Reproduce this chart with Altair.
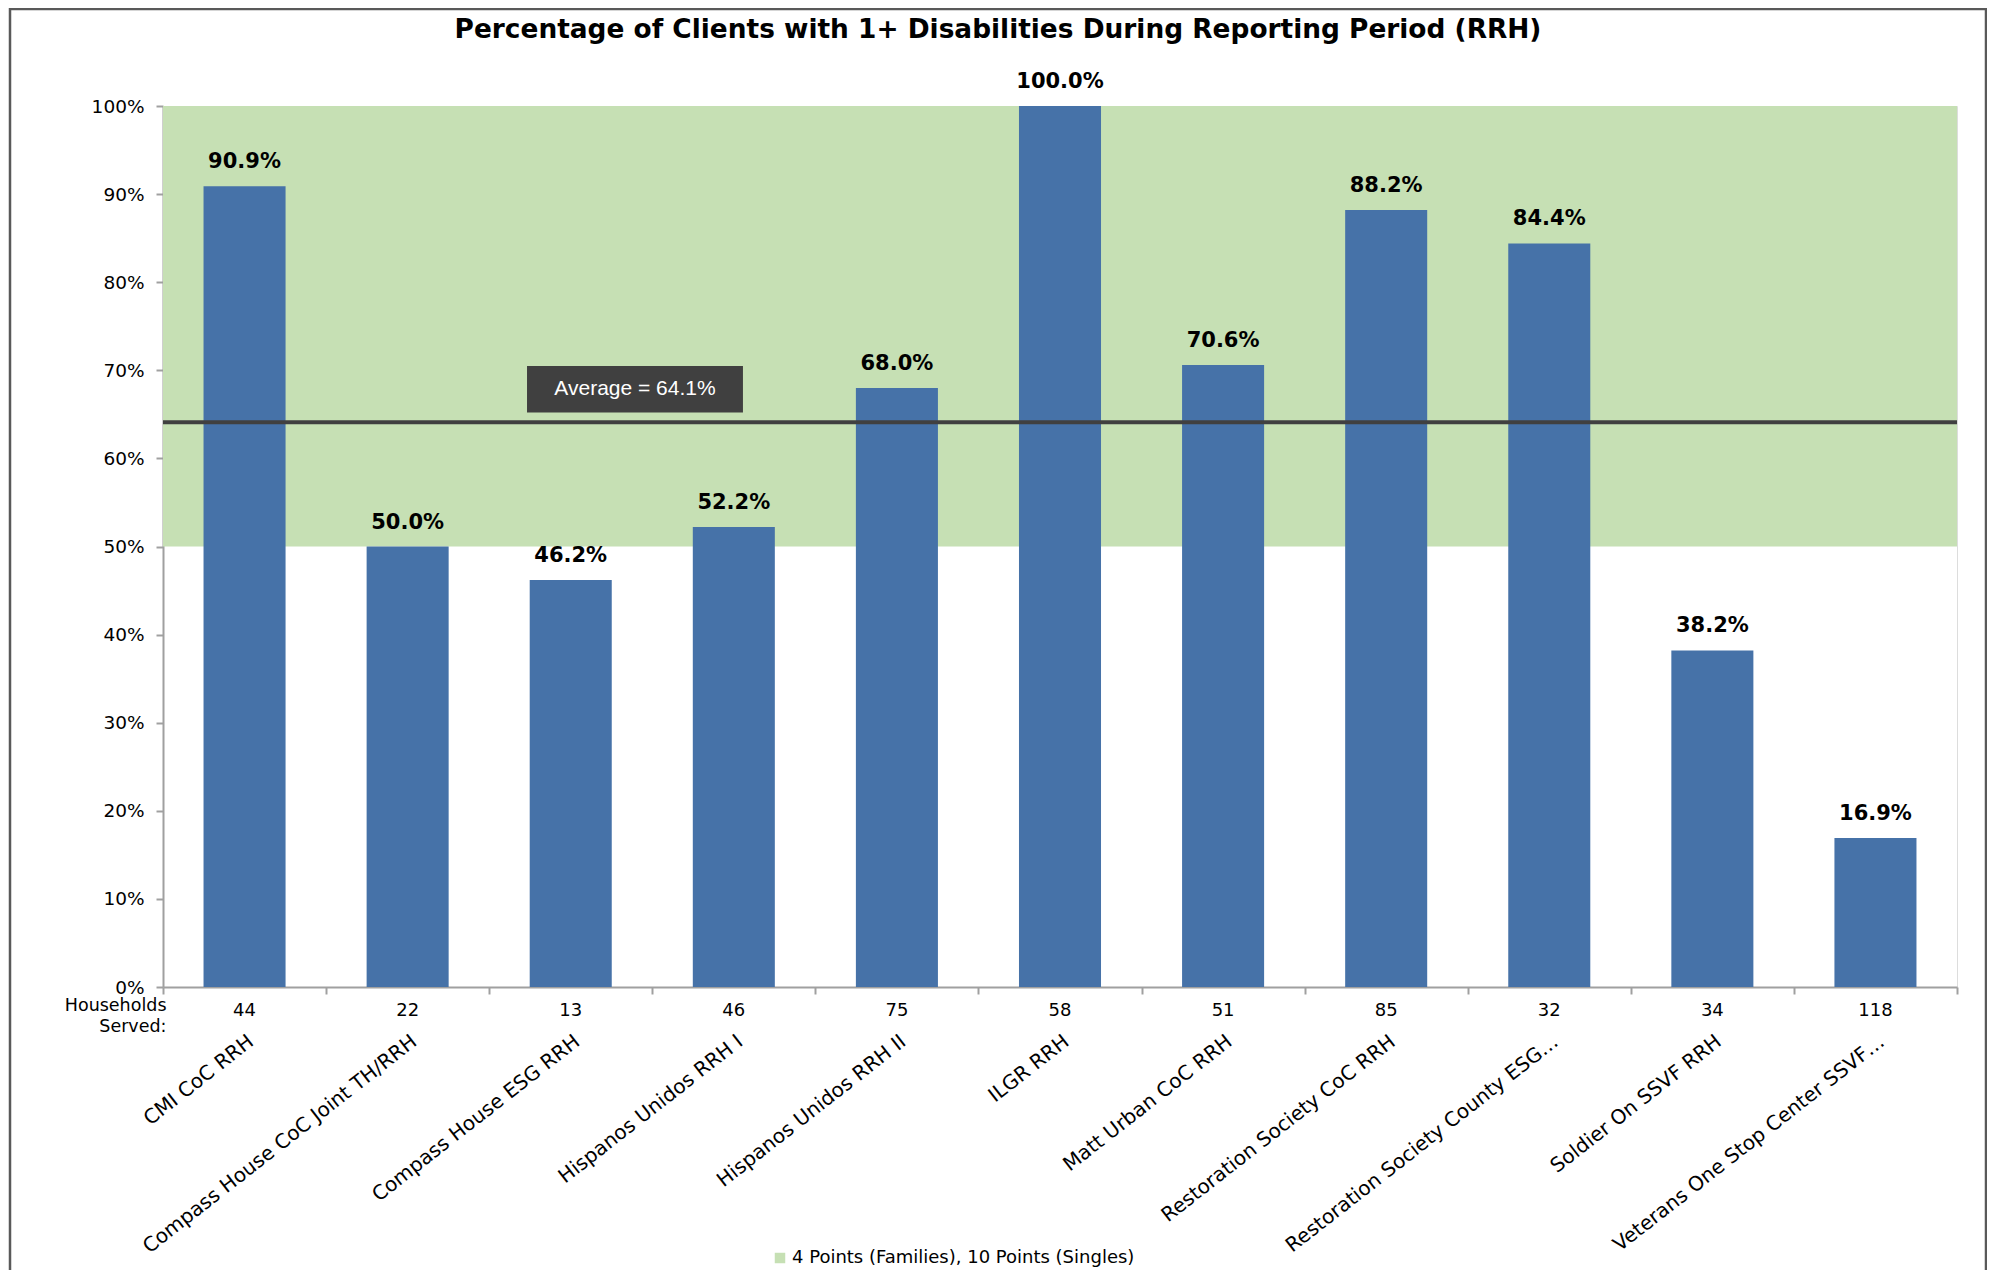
import altair as alt
import pandas as pd

# ---------------- data ----------------
programs = [
    "CMI CoC RRH",
    "Compass House CoC Joint TH/RRH",
    "Compass House ESG RRH",
    "Hispanos Unidos RRH I",
    "Hispanos Unidos RRH II",
    "ILGR RRH",
    "Matt Urban CoC RRH",
    "Restoration Society CoC RRH",
    "Restoration Society County ESG…",
    "Soldier On SSVF RRH",
    "Veterans One Stop Center SSVF…",
]
pct_disabled = [90.9, 50.0, 46.2, 52.2, 68.0, 100.0, 70.6, 88.2, 84.4, 38.2, 16.9]
households = [44, 22, 13, 46, 75, 58, 51, 85, 32, 34, 118]
average_pct = 64.1
target_low = 50
target_high = 100
target_label = "4 Points (Families), 10 Points (Singles)"
title_text = "Percentage of Clients with 1+ Disabilities During Reporting Period (RRH)"
y_ticks = [0, 10, 20, 30, 40, 50, 60, 70, 80, 90, 100]

# ---------------- layout ----------------
W, H = 1794, 881
FONT = "DejaVu Sans"
BAR = "#4672A8"
GREEN = "#C6E0B4"
GRAY = "#A0A0A0"
DARK = "#404040"

df = pd.DataFrame({"program": programs, "pct": pct_disabled, "hh": households})
df["label"] = [f"{v:.1f}%" for v in pct_disabled]

x_scale = alt.Scale(domain=programs, paddingInner=0, paddingOuter=0)
y_scale = alt.Scale(domain=[0, 100], nice=False, zero=True)

x_axis = alt.Axis(
    labelAngle=-38,
    labelFont=FONT,
    labelFontSize=20,
    labelColor="#000000",
    labelLimit=0,
    labelPadding=37,
    labelAlign="right",
    labelBaseline="top",
    tickSize=7,
    tickBand="extent",
    tickColor=GRAY,
    tickWidth=2,
    domainColor=GRAY,
    domainWidth=2,
    title=["Households", "Served:"],
    titleFont=FONT,
    titleFontSize=17.5,
    titleFontWeight="normal",
    titleColor="#000000",
    titleX=3,
    titleY=9,
    titleAlign="right",
    titleBaseline="top",
    titleAngle=0,
    titleLineHeight=21,
)
y_axis = alt.Axis(
    values=y_ticks,
    labelExpr="datum.value + '%'",
    labelFont=FONT,
    labelFontSize=18.5,
    labelColor="#000000",
    labelPadding=12,
    tickSize=7,
    tickColor=GRAY,
    tickWidth=2,
    domainColor=GRAY,
    domainWidth=2,
    grid=False,
    title=None,
)

x_enc = alt.X("program:N", sort=programs, scale=x_scale, axis=x_axis, title=["Households", "Served:"])

band_df = pd.DataFrame({"target": [target_label], "lo": [target_low], "hi": [target_high]})
band = alt.Chart(band_df).mark_rect().encode(
    y=alt.Y("lo:Q", scale=y_scale, axis=y_axis),
    y2="hi:Q",
    color=alt.Color(
        "target:N",
        scale=alt.Scale(domain=[target_label], range=[GREEN]),
        legend=alt.Legend(
            orient="none",
            legendX=608,
            legendY=1143,
            title=None,
            symbolType="square",
            symbolSize=110,
            symbolStrokeWidth=0,
            labelFont=FONT,
            labelFontSize=18,
            labelColor="#000000",
            labelOffset=3,
            labelLimit=0,
        ),
    ),
)

bars = alt.Chart(df).mark_bar(color=BAR, width=alt.RelativeBandSize(0.503)).encode(
    x=x_enc,
    y=alt.Y("pct:Q", scale=y_scale, axis=y_axis),
)

bar_labels = alt.Chart(df).mark_text(
    font=FONT, fontSize=21, fontWeight="bold", color="#000000",
    baseline="alphabetic", dy=-18,
).encode(x=x_enc, y=alt.Y("pct:Q", scale=y_scale), text="label:N")

hh_labels = alt.Chart(df).mark_text(
    font=FONT, fontSize=18, color="#000000", baseline="middle",
).encode(x=x_enc, y=alt.value(H + 24), text="hh:N")

avg_df = pd.DataFrame({"avg": [average_pct]})
avg_rule = alt.Chart(avg_df).mark_rule(color=DARK, strokeWidth=4).encode(
    y=alt.Y("avg:Q", scale=y_scale)
)

avg_box = alt.Chart(avg_df).mark_rect(color=DARK).encode(
    x=alt.X(datum=programs[2], bandPosition=0.232, scale=x_scale, type="nominal"),
    x2=alt.X2(datum=programs[3], bandPosition=0.556),
    y=alt.Y(datum=70.5, type="quantitative", scale=y_scale),
    y2=alt.Y2(datum=65.2),
)
avg_text = alt.Chart(avg_df).mark_text(
    font="Liberation Sans", fontSize=21, color="#FFFFFF", baseline="middle", align="center"
).encode(
    x=alt.X(datum=programs[2], bandPosition=0.894, scale=x_scale, type="nominal"),
    y=alt.Y(datum=67.85, type="quantitative", scale=y_scale),
    text=alt.value(f"Average = {average_pct}%"),
)

frame = alt.Chart(avg_df).mark_rect(
    filled=False, stroke="#595959", strokeWidth=2.5, fill=None
).encode(
    x=alt.value(-153), x2=alt.value(1823), y=alt.value(-97), y2=alt.value(1400)
)

chart = alt.layer(
    band, bars, avg_rule, avg_box, avg_text, bar_labels, hh_labels, frame
).properties(
    width=W,
    height=H,
    title=alt.TitleParams(
        title_text,
        font=FONT,
        fontSize=26.4,
        fontWeight="bold",
        color="#000000",
        anchor="middle",
        baseline="alphabetic",
        offset=-57,
        dx=-62,
    ),
    autosize=alt.AutoSizeParams(type="none"),
    padding={"left": 155, "top": 98, "right": 30, "bottom": 283},
).configure_view(
    stroke=GRAY, strokeWidth=2, fill="#FFFFFF"
).configure(background="#FFFFFF")

chart.save("out.html", embed_options={"renderer": "svg", "actions": False})
